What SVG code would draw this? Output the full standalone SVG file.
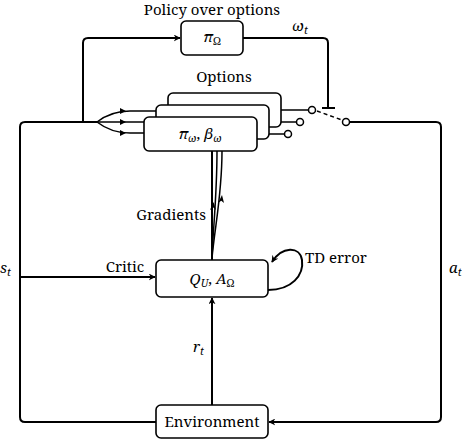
<svg xmlns="http://www.w3.org/2000/svg" width="462" height="440" viewBox="0 0 462 440">
<defs>
<marker id="arr" viewBox="0 0 10 10" refX="9" refY="5" markerWidth="7" markerHeight="7" orient="auto" markerUnits="userSpaceOnUse">
<path d="M0,0 L10,5 L0,10 L3,5 Z" fill="#000"/>
</marker>
<style>
.box{fill:#fff;stroke:#000;stroke-width:1.6}
.ln{fill:none;stroke:#000;stroke-width:2}
.thin{fill:none;stroke:#000;stroke-width:1.5}
.t{font-family:"Noto Serif","DejaVu Serif",serif;font-size:15px;fill:#000}
.m{font-family:"Noto Serif","DejaVu Serif",serif;font-style:italic;font-size:15px;fill:#000}
.s{font-size:10.5px}
.c{fill:#fff;stroke:#000;stroke-width:1.5}
</style>
</defs>
<g id="connectors">
<path class="ln" d="M156,422 L25,422 Q20,422 20,417 L20,127 Q20,122 25,122 L97,122"/>
<path class="ln" d="M83,122 L83,43 Q83,38 88,38 L180,38" marker-end="url(#arr)"/>
<path class="ln" d="M243,38 L323,38 Q328,38 328,43 L328,108"/>
<path class="ln" d="M322,108 L335,108"/>
<path class="thin" d="M97,122 C106,115 115,111 130,111 L156,111"/>
<path class="thin" d="M97,122 L144,122"/>
<path class="thin" d="M97,122 C106,129 115,133 130,133 L144,133"/>
<path d="M120,108 L126,111 L120,114 Z M120,119 L126,122 L120,125 Z M120,130 L126,133 L120,136 Z" fill="#000"/>
<path class="thin" d="M281,110 L308.5,110"/>
<path class="thin" d="M269,122 L296.5,122"/>
<path class="thin" d="M257,134 L284.5,134"/>
<circle class="c" cx="312" cy="110" r="3.5"/>
<circle class="c" cx="300" cy="122" r="3.5"/>
<circle class="c" cx="288" cy="134" r="3.5"/>
<path class="thin" d="M317,111 L342,120" stroke-dasharray="4,3"/>
<circle class="c" cx="346" cy="122" r="3.5"/>
<path class="ln" d="M349.5,122 L436,122 Q441,122 441,127 L441,417 Q441,422 436,422 L269,422" marker-end="url(#arr)"/>
<path class="ln" d="M20,277 L155,277" marker-end="url(#arr)"/>
<path class="ln" d="M212,405 L212,298" marker-end="url(#arr)"/>
<path class="ln" d="M212,260 L212,151"/>
<path class="thin" d="M212,258 C213,230 217,195 217,151"/>
<path class="thin" d="M212,258 C215,225 222,195 222,151"/>
<path d="M210,210 L213.5,202 L216,210 L213.5,207.5 Z M218,203 L222,195 L224,203 L221.3,200.7 Z" fill="#000"/>
<path class="ln" d="M268,290 C292,290 304,275 302,260 C300,246 282,246 272,262" marker-end="url(#arr)"/>
</g>
<g id="policy">
<rect class="box" x="181" y="21" width="62" height="34" rx="5"/>
<text class="m" x="212" y="42" text-anchor="middle">π<tspan class="s" font-style="normal" dy="3">Ω</tspan></text>
<text class="t" x="212" y="15" text-anchor="middle" font-size="14.5">Policy over options</text>
<text class="m" x="300" y="31" text-anchor="middle">ω<tspan class="s" dy="3">t</tspan></text>
</g>
<g id="options">
<text class="t" x="224" y="82" text-anchor="middle">Options</text>
<rect class="box" x="168" y="93" width="113" height="34" rx="5"/>
<rect class="box" x="156" y="105" width="113" height="34" rx="5"/>
<rect class="box" x="144" y="117" width="113" height="34" rx="5"/>
<text class="m" x="200" y="139" text-anchor="middle">π<tspan class="s" dy="3">ω</tspan><tspan dy="-3" font-style="normal">,  </tspan>β<tspan class="s" dy="3">ω</tspan></text>
</g>
<g id="critic">
<rect class="box" x="156" y="260" width="112" height="37" rx="5"/>
<text class="m" x="212" y="284" text-anchor="middle">Q<tspan class="s" dy="3">U</tspan><tspan dy="-3" font-style="normal">, </tspan>A<tspan class="s" font-style="normal" dy="3">Ω</tspan></text>
<text class="t" x="125" y="272" text-anchor="middle">Critic</text>
<text class="t" x="305" y="263">TD error</text>
<text class="t" x="206" y="220" text-anchor="end">Gradients</text>
</g>
<g id="environment">
<rect class="box" x="156" y="405" width="112" height="33" rx="5"/>
<text class="t" x="212" y="427" text-anchor="middle">Environment</text>
</g>
<g id="labels">
<text class="m" x="0" y="273">s<tspan class="s" dy="3">t</tspan></text>
<text class="m" x="449" y="273">a<tspan class="s" dy="3">t</tspan></text>
<text class="m" x="193" y="352">r<tspan class="s" dy="3">t</tspan></text>
</g>
</svg>
